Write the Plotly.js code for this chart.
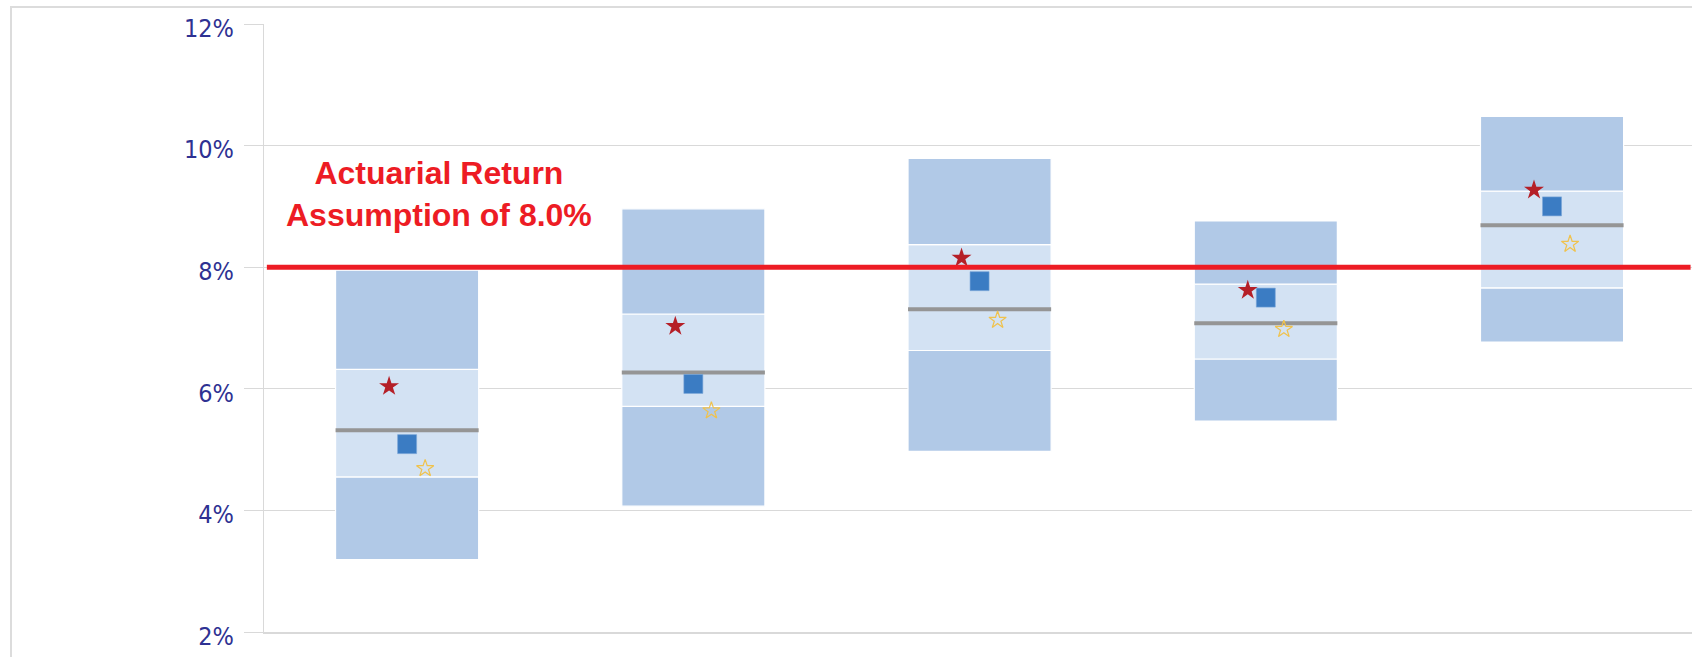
<!DOCTYPE html>
<html>
<head>
<meta charset="utf-8">
<script src="https://cdn.plot.ly/plotly-3.0.1.min.js"></script>
<style>
  html, body { margin: 0; padding: 0; background: #ffffff; overflow: hidden; }
  #frame { position: absolute; left: 10px; top: 6px; width: 1700px; height: 700px;
           border-left: 2px solid #dcdcdc; border-top: 2px solid #dcdcdc; }
  #chart { position: absolute; left: 0; top: 0; width: 1692px; height: 657px; }
</style>
</head>
<body>
<div id="frame"></div>
<div id="chart"></div>
<script>
// Category positions (no labels are shown on the x axis)
const categories = [0, 1, 2, 3, 4];

// Range bands (percent)
const bandBottom   = [3.19, 4.07, 4.97, 5.47, 6.77];
const lowerInner   = [4.55, 5.71, 6.63, 6.49, 7.66];
const median       = [5.32, 6.27, 7.31, 7.08, 8.69];
const upperInner   = [6.32, 7.23, 8.37, 7.72, 9.25];
const bandTop      = [7.95, 8.96, 9.79, 8.76, 10.48];

// Point markers (percent)
const redStar      = [6.04, 7.03, 8.15, 7.62, 9.27];
const blueSquare   = [5.09, 6.08, 7.77, 7.50, 9.00];
const yellowStar   = [4.69, 5.64, 7.13, 6.98, 8.38];

// Reference line
const assumption = 8.0;
const assumptionLabel = "Actuarial Return<br>Assumption of 8.0%";

// Y-axis ticks
const yTickVals = [2, 4, 6, 8, 10, 12];
const yTickText = ["2%", "4%", "6%", "8%", "10%", "12%"];

const darkBand = "#b1c9e7";
const lightBand = "#d3e2f3";
const barWidth = 0.5;
const markerOffset = 0.063;

function diff(a, b) { return a.map((v, i) => v - b[i]); }

const traces = [];

traces.push({
  type: "bar", x: categories, base: bandBottom, y: diff(lowerInner, bandBottom),
  width: barWidth, marker: { color: darkBand, line: { color: "#ffffff", width: 1.2 } },
  hoverinfo: "skip", showlegend: false
});
traces.push({
  type: "bar", x: categories, base: lowerInner, y: diff(upperInner, lowerInner),
  width: barWidth, marker: { color: lightBand, line: { color: "#ffffff", width: 1.2 } },
  hoverinfo: "skip", showlegend: false
});
traces.push({
  type: "bar", x: categories, base: upperInner, y: diff(bandTop, upperInner),
  width: barWidth, marker: { color: darkBand, line: { color: "#ffffff", width: 1.2 } },
  hoverinfo: "skip", showlegend: false
});

// Median lines
const mx = [], my = [];
categories.forEach((c, i) => {
  mx.push(c - barWidth / 2, c + barWidth / 2, null);
  my.push(median[i], median[i], null);
});
traces.push({
  type: "scatter", mode: "lines", x: mx, y: my,
  line: { color: "#959595", width: 4 }, hoverinfo: "skip", showlegend: false
});

traces.push({
  type: "scatter", mode: "markers",
  x: categories.map(c => c - markerOffset), y: redStar,
  marker: { symbol: "star", size: 15, color: "#b51f27", line: { width: 0 } },
  showlegend: false
});
traces.push({
  type: "scatter", mode: "markers",
  x: categories.map(c => c), y: blueSquare,
  marker: { symbol: "square", size: 19, color: "#3b7cc3", line: { width: 0.6, color: "#7aa6d8" } },
  showlegend: false
});
traces.push({
  type: "scatter", mode: "markers",
  x: categories.map(c => c + markerOffset), y: yellowStar,
  marker: { symbol: "star-open", size: 13, color: "#f0c24c", line: { width: 1.2, color: "#f0c24c" } },
  showlegend: false
});

const layout = {
  width: 1692, height: 657,
  margin: { l: 264, r: 0, t: 24, b: 25, pad: 0 },
  paper_bgcolor: "rgba(0,0,0,0)",
  plot_bgcolor: "rgba(0,0,0,0)",
  barmode: "overlay",
  showlegend: false,
  xaxis: {
    range: [-0.5, 4.489], showticklabels: false, showgrid: false, zeroline: false,
    showline: true, linecolor: "#d9d9d9", linewidth: 2, ticks: "", fixedrange: true
  },
  yaxis: {
    range: [2, 12], tickvals: yTickVals, ticktext: yTickText,
    showgrid: true, gridcolor: "#d9d9d9", gridwidth: 1, zeroline: false,
    showline: true, linecolor: "#d9d9d9", linewidth: 1,
    ticks: "outside", ticklen: 19, tickcolor: "#d9d9d9", tickwidth: 1,
    ticklabelstandoff: 5,
    ticklabelshift: 4,
    tickfont: { family: "DejaVu Sans Condensed, DejaVu Sans, sans-serif", size: 25, color: "#2e3192" },
    fixedrange: true
  },
  shapes: [{
    type: "line", xref: "paper", yref: "y", x0: 0.002, x1: 0.999,
    y0: assumption, y1: assumption,
    line: { color: "#ed1c24", width: 5 }, layer: "above"
  }],
  annotations: [{
    xref: "x", yref: "y", x: 0.113, y: 9.2, xanchor: "center", yanchor: "middle",
    text: assumptionLabel, showarrow: false, align: "center",
    font: { family: "Liberation Sans, Arial, sans-serif", size: 32, color: "#ed1c24", weight: "bold" }
  }]
};

Plotly.newPlot("chart", traces, layout, { displayModeBar: false, staticPlot: true });
</script>
</body>
</html>
